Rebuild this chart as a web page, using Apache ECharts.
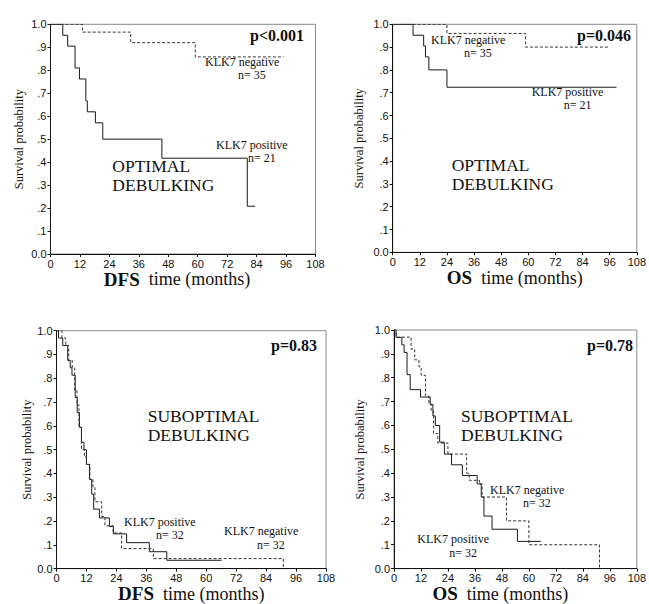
<!DOCTYPE html>
<html><head><meta charset="utf-8">
<style>html,body{margin:0;padding:0;background:#fff}#c{width:649px;height:604px}</style>
<script src="https://cdn.jsdelivr.net/npm/echarts@6/dist/echarts.min.js"></script>
</head><body><div id="c"></div>
<script>
// ---- Data (months, survival probability) ----
// Panel 1: DFS, optimal debulking
const dfsOptPosT = [0, 5, 7, 10, 11.8, 14.4, 15, 18.3, 21.3, 45.4, 80.2, 83.4];
const dfsOptPosS = [1, 0.952, 0.905, 0.810, 0.762, 0.667, 0.619, 0.571, 0.50, 0.417, 0.208, 0.208];
const dfsOptNegT = [0, 13, 32.7, 59, 95];
const dfsOptNegS = [1, 0.966, 0.920, 0.858, 0.858];
// Panel 2: OS, optimal debulking
const osOptPosT = [0, 9, 13.7, 14.5, 16, 24, 99];
const osOptPosS = [1, 0.952, 0.905, 0.857, 0.800, 0.724, 0.724];
const osOptNegT = [0, 24, 58.8, 95.3];
const osOptNegS = [1, 0.960, 0.900, 0.900];
// Panel 3: DFS, suboptimal debulking
const dfsSubPosT = [0, 0.8, 2.5, 4.5, 5.5, 6.2, 7.5, 8.3, 9.2, 10, 11, 12, 13.2, 14.1, 14.9, 17.2, 21.2, 22.8, 28.1, 37.2, 44.2, 66.2];
const dfsSubPosS = [1, 0.969, 0.938, 0.875, 0.844, 0.813, 0.719, 0.656, 0.594, 0.531, 0.5, 0.438, 0.375, 0.313, 0.25, 0.213, 0.177, 0.146, 0.109, 0.071, 0.035, 0.035];
const dfsSubNegT = [0, 2.2, 3.7, 4.9, 6.3, 7.3, 8.2, 9.0, 10.0, 11.2, 12.0, 13.4, 14.6, 15.4, 18.1, 19.4, 22.7, 26.1, 38.8, 90.9];
const dfsSubNegS = [1, 0.969, 0.938, 0.875, 0.844, 0.75, 0.688, 0.594, 0.5, 0.469, 0.438, 0.375, 0.344, 0.281, 0.219, 0.18, 0.15, 0.084, 0.042, 0];
// Panel 4: OS, suboptimal debulking
const osSubPosT = [0, 0.9, 3.5, 4.5, 5.8, 7.2, 11.8, 16.1, 17.3, 18.4, 20.3, 22.4, 25.6, 30.4, 37.0, 38.8, 40.0, 43.6, 54.9, 65.3];
const osSubPosS = [1, 0.969, 0.938, 0.906, 0.813, 0.75, 0.719, 0.688, 0.64, 0.60, 0.53, 0.48, 0.435, 0.39, 0.355, 0.30, 0.22, 0.165, 0.114, 0.114];
const osSubNegT = [0, 1, 7.6, 9.2, 11.1, 12.1, 14, 15.5, 16.5, 17.6, 19.5, 24, 32.3, 33.5, 38, 39.2, 50, 60, 91.4];
const osSubNegS = [1, 0.97, 0.92, 0.875, 0.846, 0.81, 0.724, 0.69, 0.663, 0.566, 0.526, 0.48, 0.40, 0.37, 0.355, 0.30, 0.20, 0.10, 0];

const xTickLabels = ['0','12','24','36','48','60','72','84','96','108'];
const yTickLabels = ['0.0','.1','.2','.3','.4','.5','.6','.7','.8','.9','1.0'];
const pValues = ['p<0.001', 'p=0.046', 'p=0.83', 'p=0.78'];
const endpoints = ['DFS', 'OS', 'DFS', 'OS'];
const groupTitles = [['OPTIMAL','DEBULKING'],['OPTIMAL','DEBULKING'],['SUBOPTIMAL','DEBULKING'],['SUBOPTIMAL','DEBULKING']];
const posLabels = [['KLK7 positive','n= 21'],['KLK7 positive','n= 21'],['KLK7 positive','n= 32'],['KLK7 positive','n= 32']];
const negLabels = [['KLK7 negative','n= 35'],['KLK7 negative','n= 35'],['KLK7 negative','n= 32'],['KLK7 negative','n= 32']];

// ---- Layout ----
const SERIF = 'Liberation Serif';
const SANS = 'Liberation Sans';
const grids = [
  {left: 50.5, top: 24.3, width: 265, height: 229.7},
  {left: 392.7, top: 24.3, width: 247.3, height: 228},
  {left: 56.5, top: 330.7, width: 269.5, height: 244.3},
  {left: 394, top: 330, width: 246, height: 246}
];
const xNameGap = [16, 17, 14, 14];
const xLabelMargin = [4, 4, 3.5, 3.5];
const xNamePadRight = [12, 0, 0, 30];
const yNameGap = [25, 27, 22, 28];

const curves = [
  [dfsOptPosT, dfsOptPosS, dfsOptNegT, dfsOptNegS],
  [osOptPosT, osOptPosS, osOptNegT, osOptNegS],
  [dfsSubPosT, dfsSubPosS, dfsSubNegT, dfsSubNegS],
  [osSubPosT, osSubPosS, osSubNegT, osSubNegS]
];
const zip = (t, s) => t.map((x, i) => [x, s[i]]);

// annotation positions [x, y] in px
const pPos = [[304, 35], [631, 35], [317, 345], [633, 345]];
const titlePos = [[112.3, 166.7], [451.7, 165.7], [147.7, 416.7], [461, 416.7]];
const posPos = [[216, 145.7], [531.7, 92.7], [124, 522.7], [417.3, 540]];
const negPos = [[205, 62.5], [431, 40.7], [224, 532.3], [490, 490.7]];

const xAxes = [], yAxes = [], series = [], graphics = [];
grids.forEach((g, i) => {
  xAxes.push({
    type: 'value', gridIndex: i, min: 0, max: 108, interval: 12,
    axisLine: {show: true, lineStyle: {color: '#111', width: 1}},
    axisTick: {show: true, length: 3, lineStyle: {color: '#111'}},
    splitLine: {show: false},
    axisLabel: {margin: xLabelMargin[i], color: '#111', fontFamily: SANS, fontSize: 11, lineHeight: 11,
      formatter: v => xTickLabels[Math.round(v / 12)]},
    name: '{b|' + endpoints[i] + '}  time (months)',
    nameLocation: 'middle', nameGap: xNameGap[i],
    nameTextStyle: {fontFamily: SERIF, fontSize: 18, color: '#111', lineHeight: 15,
      padding: [0, xNamePadRight[i], 0, 0],
      rich: {b: {fontFamily: SERIF, fontSize: 19, fontWeight: 'bold', color: '#111', lineHeight: 15}}}
  });
  yAxes.push({
    type: 'value', gridIndex: i, min: 0, max: 1, interval: 0.1,
    axisLine: {show: true, lineStyle: {color: '#111', width: 1}},
    axisTick: {show: true, length: 3, lineStyle: {color: '#111'}},
    splitLine: {show: false},
    axisLabel: {margin: 4, color: '#111', fontFamily: SANS, fontSize: 11,
      formatter: v => yTickLabels[Math.round(v * 10)]},
    name: 'Survival probability', nameLocation: 'middle', nameGap: yNameGap[i],
    nameTextStyle: {fontFamily: SERIF, fontSize: 12.5, color: '#111'}
  });
  const c = curves[i];
  series.push({
    name: 'KLK7 positive', type: 'line', step: 'end', xAxisIndex: i, yAxisIndex: i,
    data: zip(c[0], c[1]), showSymbol: false, silent: true,
    lineStyle: {color: '#1a1a1a', width: 1}
  });
  series.push({
    name: 'KLK7 negative', type: 'line', step: 'end', xAxisIndex: i, yAxisIndex: i,
    data: zip(c[2], c[3]), showSymbol: false, silent: true,
    lineStyle: {color: '#333', width: 1, type: [3, 2]}
  });
  const txt = (s, x, y, size, lh, weight, align) => ({
    type: 'text', x: x, y: y, silent: true,
    style: {text: s, fill: '#111', font: (weight || 'normal') + ' ' + size + 'px "' + SERIF + '"',
      lineHeight: lh, textAlign: align || 'left', textVerticalAlign: 'middle'}
  });
  graphics.push(txt(pValues[i], pPos[i][0], pPos[i][1], 16, 16, 'bold', 'right'));
  graphics.push(txt(groupTitles[i][0], titlePos[i][0], titlePos[i][1] - 0.75, 17.5, 17));
  graphics.push(txt(groupTitles[i][1], titlePos[i][0], titlePos[i][1] + 18.75, 17.5, 17));
  graphics.push(txt(posLabels[i][0], posPos[i][0], posPos[i][1] - 1, 12, 12));
  graphics.push(txt(posLabels[i][1], posPos[i][0] + 32, posPos[i][1] + 12.5, 12, 12));
  graphics.push(txt(negLabels[i][0], negPos[i][0], negPos[i][1] - 1, 12, 12));
  graphics.push(txt(negLabels[i][1], negPos[i][0] + 33, negPos[i][1] + 12.5, 12, 12));
});

const chart = echarts.init(document.getElementById('c'), null, {renderer: 'svg'});
chart.setOption({
  backgroundColor: '#fff',
  animation: false,
  grid: grids.map(g => Object.assign({show: true, borderColor: '#888', borderWidth: 1, containLabel: false}, g)),
  xAxis: xAxes,
  yAxis: yAxes,
  series: series,
  graphic: graphics
});
</script>
</body></html>
